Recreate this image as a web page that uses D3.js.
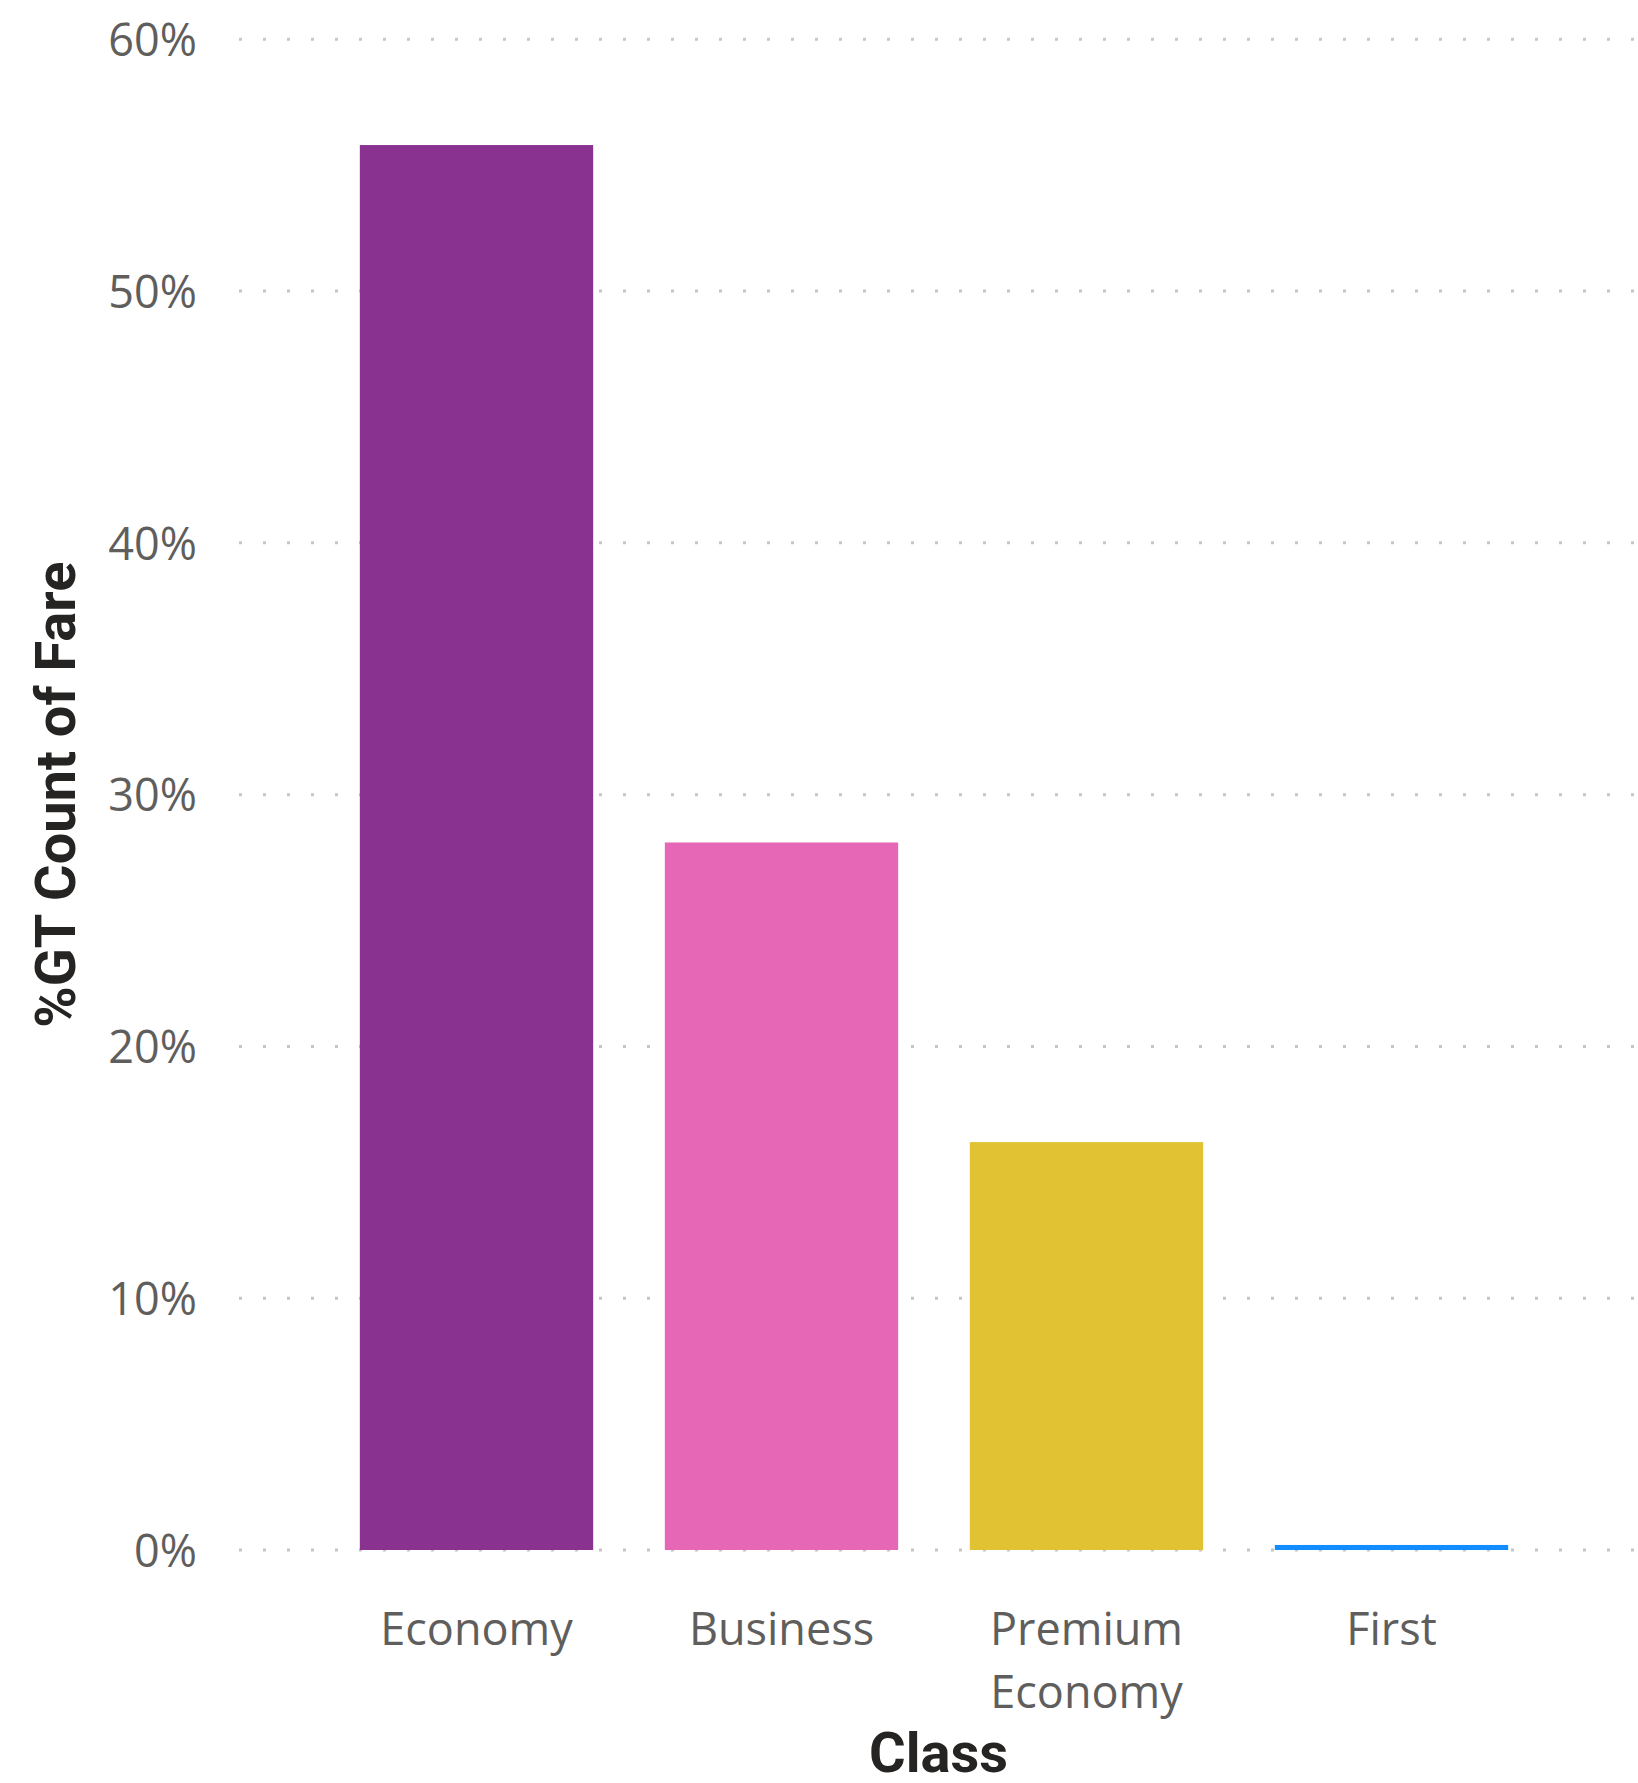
<!DOCTYPE html>
<html>
<head>
<meta charset="utf-8">
<script src="https://cdn.jsdelivr.net/npm/d3@7"></script>
<style>
  html, body { margin: 0; padding: 0; background: #ffffff; }
  svg { display: block; }
</style>
</head>
<body>
<svg id="chart" width="1638" height="1783"></svg>
<script>
// Share of fare count by travel class
const categories = ["Economy", "Business", "Premium Economy", "First"];
const shares = [0.558, 0.281, 0.162, 0.002];
const barColors = ["#89328F", "#E667B6", "#E0C233", "#118DFF"];
const yTicks = [0, 0.1, 0.2, 0.3, 0.4, 0.5, 0.6];
const yTitle = "%GT Count of Fare";
const xTitle = "Class";

const W = 1638, H = 1783;
const gridLeft = 239, gridRight = 1638;
const plotTop = 39.3, plotBottom = 1550;

const svg = d3.select("#chart");

const y = d3.scaleLinear().domain([0, 0.6]).range([plotBottom, plotTop]);
const x = d3.scaleBand()
  .domain(categories)
  .range([324, 1544])
  .paddingInner(0.235)
  .paddingOuter(0.1175);

const tickFont = "'Open Sans', 'Noto Sans', sans-serif";
const titleFont = "'Roboto', 'DejaVu Sans', sans-serif";

// dotted horizontal gridlines
const yAxis = d3.axisLeft(y)
  .tickValues(yTicks)
  .tickFormat(d3.format(".0%"))
  .tickSize(0)
  .tickPadding(0);

const gy = svg.append("g")
  .attr("transform", `translate(${gridLeft},0)`);

gy.selectAll("line.grid")
  .data(yTicks)
  .join("line")
  .attr("class", "grid")
  .attr("x1", 0)
  .attr("x2", gridRight - gridLeft)
  .attr("y1", d => y(d))
  .attr("y2", d => y(d))
  .attr("stroke", "#C8C6C4")
  .attr("stroke-width", 3)
  .attr("stroke-dasharray", "3,21");

// y tick labels
const yAxisG = svg.append("g")
  .attr("transform", `translate(197,0)`)
  .call(yAxis);
yAxisG.select(".domain").remove();
yAxisG.selectAll("text")
  .attr("fill", "#605E5C")
  .attr("font-family", tickFont)
  .attr("font-size", 45)
  .attr("dy", "0.36em");

// bars
svg.append("g")
  .selectAll("rect")
  .data(categories.map((c, i) => ({ c, v: shares[i], col: barColors[i] })))
  .join("rect")
  .attr("x", d => x(d.c))
  .attr("width", x.bandwidth())
  .attr("y", d => y(d.v))
  .attr("height", d => y(0) - y(d.v))
  .attr("fill", d => d.col);

// x axis labels (wrapped to the band width)
const xAxis = d3.axisBottom(x).tickSize(0).tickPadding(0);
const xAxisG = svg.append("g")
  .attr("transform", `translate(0,${plotBottom})`)
  .call(xAxis);
xAxisG.select(".domain").remove();
xAxisG.selectAll("text").remove();
xAxisG.selectAll(".tick").each(function(d) {
  const words = d.split(" ");
  const t = d3.select(this).append("text")
    .attr("fill", "#605E5C")
    .attr("font-family", tickFont)
    .attr("font-size", 45)
    .attr("text-anchor", "middle");
  words.forEach((w, i) => {
    t.append("tspan")
      .attr("x", 0)
      .attr("y", 95 + i * 63)
      .text(w);
  });
});

// axis titles
svg.append("text")
  .attr("x", (gridLeft + gridRight) / 2)
  .attr("y", 1772)
  .attr("text-anchor", "middle")
  .attr("font-family", titleFont)
  .attr("font-weight", 700)
  .attr("font-size", 56)
  .attr("fill", "#252423")
  .text(xTitle);

svg.append("text")
  .attr("transform", `translate(75,${(plotTop + plotBottom) / 2}) rotate(-90)`)
  .attr("text-anchor", "middle")
  .attr("font-family", titleFont)
  .attr("font-weight", 700)
  .attr("font-size", 56)
  .attr("fill", "#252423")
  .text(yTitle);
</script>
</body>
</html>
